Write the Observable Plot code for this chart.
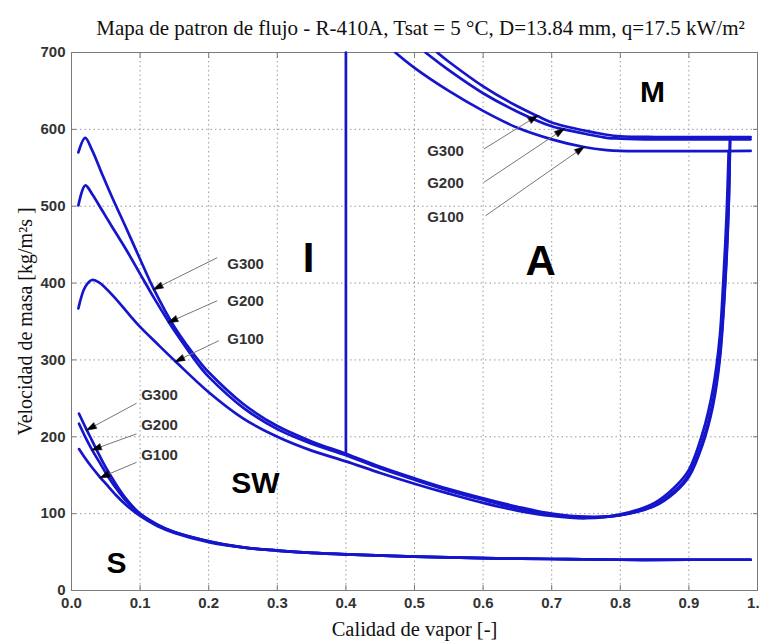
<!DOCTYPE html>
<html><head><meta charset="utf-8">
<script src="https://cdn.jsdelivr.net/npm/d3@7"></script>
<script src="https://cdn.jsdelivr.net/npm/@observablehq/plot@0.6"></script>
<style>html,body{margin:0;padding:0;background:#fff;}</style>
</head><body><div id="chart"></div>
<script>
// ---------- text ----------
const title = "Mapa de patron de flujo - R-410A, Tsat = 5 °C, D=13.84 mm, q=17.5 kW/m²";
const xLabel = "Calidad de vapor [-]";
const yLabel = "Velocidad de masa [kg/m²s ]";
const xTicks = [0, 0.1, 0.2, 0.3, 0.4, 0.5, 0.6, 0.7, 0.8, 0.9, 1];
const yTicks = [0, 100, 200, 300, 400, 500, 600, 700];
const massFluxes = ["G300", "G200", "G100"];

// ---------- stratified-wavy boundary (x, G) ----------
const wavyG300 = [[0.01,570],[0.02,589],[0.03,573],[0.045,541],[0.06,510],[0.08,471],[0.1,431],[0.12,392],[0.15,343],[0.19,294],[0.2,284],[0.25,243],[0.3,214],[0.35,194],[0.4,178],[0.45,161],[0.5,146],[0.55,132],[0.6,120],[0.65,109],[0.7,100],[0.75,96],[0.8,98],[0.85,110],[0.88,128],[0.9,148],[0.92,190],[0.935,240],[0.945,300],[0.953,400],[0.958,500],[0.96,590]];
const wavyG200 = [[0.01,501],[0.02,527],[0.03,516],[0.045,494],[0.06,472],[0.08,443],[0.1,412],[0.12,381],[0.142,349],[0.15,338],[0.19,288],[0.2,278],[0.25,238],[0.3,210],[0.35,191],[0.4,176],[0.45,159],[0.5,144],[0.55,130],[0.6,118],[0.65,107],[0.7,99],[0.75,95],[0.8,98],[0.85,111],[0.88,130],[0.9,151],[0.92,194],[0.935,246],[0.945,306],[0.953,405],[0.958,505],[0.96,587]];
const wavyG100 = [[0.01,367],[0.02,395],[0.03,404],[0.04,401],[0.06,384],[0.086,357],[0.1,343],[0.125,321],[0.154,296],[0.2,258],[0.25,224],[0.3,200],[0.35,182],[0.4,168],[0.45,153],[0.5,139],[0.55,126],[0.6,114],[0.65,104],[0.7,97],[0.75,94],[0.8,99],[0.85,114],[0.88,135],[0.9,157],[0.92,205],[0.935,262],[0.945,330],[0.95,400],[0.955,490],[0.958,572]];

// ---------- stratified boundary (x, G) ----------
const stratG300 = [[0.011,230],[0.02,213],[0.03,195],[0.04,177],[0.05,160],[0.065,138],[0.08,119],[0.1,100],[0.125,86],[0.15,76],[0.2,64],[0.25,56],[0.3,52],[0.35,49],[0.4,47],[0.5,44],[0.6,42],[0.7,41],[0.8,40],[0.9,40],[0.99,40]];
const stratG200 = [[0.011,217],[0.02,200],[0.03,183],[0.04,168],[0.05,153],[0.065,133],[0.08,116],[0.1,99],[0.125,85],[0.15,76],[0.2,64],[0.25,56],[0.3,52],[0.35,49],[0.4,47],[0.5,44],[0.6,42],[0.7,41],[0.8,40],[0.9,40],[0.99,40]];
const stratG100 = [[0.011,184],[0.02,172],[0.03,160],[0.042,147],[0.05,139],[0.065,124],[0.08,111],[0.1,97],[0.125,84],[0.15,75],[0.2,63],[0.25,56],[0.3,52],[0.35,49],[0.4,47],[0.5,44],[0.6,42],[0.7,41],[0.8,40],[0.9,40],[0.99,40]];

// ---------- mist (dryout) boundary (x, G) ----------
const mistG300 = [[0.533,700],[0.55,688],[0.6,656],[0.65,630],[0.68,617],[0.7,609],[0.75,598],[0.78,593],[0.8,591],[0.85,590],[0.99,590]];
const mistG200 = [[0.516,700],[0.55,677],[0.6,647],[0.65,623],[0.7,604],[0.718,600],[0.75,594],[0.78,589],[0.8,588],[0.85,587],[0.99,587]];
const mistG100 = [[0.472,700],[0.5,680],[0.55,650],[0.6,624],[0.65,602],[0.7,587],[0.747,577],[0.78,573],[0.8,572],[0.99,572]];

// ---------- intermittent / annular transition ----------
const transitionIA = [[0.4,178],[0.4,700]];

// ---------- region names ----------
const regionNames = ["I", "A", "M", "SW", "S"];
const regionX = [0.3455, 0.684, 0.847, 0.268, 0.0656];
const regionG = [432, 428, 648, 139, 35];

// ---------- annotations ----------
const wavyLabelX = [0.227, 0.227, 0.227];
const wavyLabelG = [425, 377, 327];
const wavyArrowFrom = [[0.2124,433],[0.2124,377],[0.2147,325]];
const wavyArrowTo = [[0.120,392],[0.1418,349],[0.1516,298]];

const stratLabelX = [0.1016, 0.1016, 0.1016];
const stratLabelG = [253.6, 214.6, 175.6];
const stratArrowFrom = [[0.0948,243.6],[0.0948,203.8],[0.0948,166.8]];
const stratArrowTo = [[0.0228,209],[0.0303,183],[0.0423,147]];

const mistLabelX = [0.572, 0.572, 0.572];
const mistLabelG = [572, 529.6, 486];
const mistArrowFrom = [[0.601,574.4],[0.601,531],[0.6035,487.6]];
const mistArrowTo = [[0.679,617.5],[0.7176,600.4],[0.7468,577]];

// ---------- build tables ----------
const curveSets = {wavyG300, wavyG200, wavyG100, stratG300, stratG200, stratG100, mistG300, mistG200, mistG100, transitionIA};
const curveRows = Object.entries(curveSets).flatMap(([id, pts]) => pts.map(([x, G]) => ({id, x, G})));
const straightIds = new Set(["transitionIA"]);

const labelRows = (xs, gs) => massFluxes.map((t, i) => ({t, x: xs[i], G: gs[i]}));
const arrowRows = (from, to) => from.map((f, i) => ({x1: f[0], y1: f[1], x2: to[i][0], y2: to[i][1]}));
const arrows = [...arrowRows(wavyArrowFrom, wavyArrowTo), ...arrowRows(stratArrowFrom, stratArrowTo), ...arrowRows(mistArrowFrom, mistArrowTo)];
const regions = regionNames.map((t, i) => ({t, x: regionX[i], G: regionG[i]}));

const blue = "#1515cc";
const sans = "'Liberation Sans', Arial, sans-serif";
const serif = "'Liberation Serif', 'Times New Roman', serif";
const gridStyle = {stroke: "#999", strokeOpacity: 1, strokeDasharray: "1.5,3"};
const axisText = {fontSize: 15, fontWeight: "bold", fontFamily: sans};

const plot = Plot.plot({
  width: 760, height: 644,
  marginLeft: 71, marginRight: 3, marginTop: 52, marginBottom: 54,
  x: {domain: [0, 1]},
  y: {domain: [0, 700]},
  style: {fontFamily: sans, fontSize: "15px", fontWeight: "bold", color: "#333", background: "#fff", overflow: "visible"},
  marks: [
    Plot.gridX(xTicks, gridStyle),
    Plot.gridY(yTicks, gridStyle),
    Plot.frame({stroke: "#7a7a7a"}),
    Plot.axisX(xTicks, {anchor: "bottom", tickSize: -5, tickPadding: 12, stroke: "#7a7a7a", fill: "#333", label: null, ...axisText}),
    Plot.axisX(xTicks, {anchor: "top", tickSize: -5, tickFormat: () => "", stroke: "#7a7a7a", label: null}),
    Plot.axisY(yTicks, {anchor: "left", tickSize: -5, tickPadding: 11, stroke: "#7a7a7a", fill: "#333", label: null, ...axisText}),
    Plot.axisY(yTicks, {anchor: "right", tickSize: -5, tickFormat: () => "", stroke: "#7a7a7a", label: null}),
    Plot.line(curveRows.filter(d => !straightIds.has(d.id)), {x: "x", y: "G", z: "id", stroke: blue, strokeWidth: 2.7, curve: "catmull-rom", clip: true}),
    Plot.line(curveRows.filter(d => straightIds.has(d.id)), {x: "x", y: "G", z: "id", stroke: blue, strokeWidth: 2.7}),
    Plot.link(arrows, {x1: "x1", y1: "y1", x2: "x2", y2: "y2", stroke: "#777", strokeWidth: 1, markerEnd: "arrow"}),
    Plot.text(labelRows(wavyLabelX, wavyLabelG), {x: "x", y: "G", text: "t", textAnchor: "start", fontSize: 15, fontWeight: "bold", fill: "#333"}),
    Plot.text(labelRows(stratLabelX, stratLabelG), {x: "x", y: "G", text: "t", textAnchor: "start", fontSize: 15, fontWeight: "bold", fill: "#333"}),
    Plot.text(labelRows(mistLabelX, mistLabelG), {x: "x", y: "G", text: "t", textAnchor: "end", fontSize: 15, fontWeight: "bold", fill: "#333"}),
    Plot.text(regions, {x: "x", y: "G", text: "t", fontSize: d => (d.t === "I" || d.t === "A") ? 42 : 30, fontWeight: "bold", fill: "#000", fontFamily: sans}),
    Plot.text([title], {text: d => d, frameAnchor: "top", textAnchor: "middle", lineAnchor: "middle", dy: -24, dx: 6, fontFamily: serif, fontSize: 21, fontWeight: "normal", fill: "#111"}),
    Plot.text([xLabel], {text: d => d, frameAnchor: "bottom", textAnchor: "middle", lineAnchor: "middle", dy: 39, fontFamily: serif, fontSize: 20.5, fontWeight: "normal", fill: "#111"}),
    Plot.text([yLabel], {text: d => d, frameAnchor: "left", textAnchor: "middle", lineAnchor: "middle", dx: -46, rotate: -90, fontFamily: serif, fontSize: 20, fontWeight: "normal", fill: "#111"})
  ]
});

// filled black arrowheads like the reference
d3.select(plot).selectAll("marker")
  .attr("fill", "#000").attr("stroke", "#000").attr("stroke-width", 0.5)
  .attr("viewBox", "-10 -5 15 10")
  .attr("markerWidth", 15).attr("markerHeight", 10)
  .selectAll("path").attr("d", "M-9,-3.2L1,0L-9,3.2Z");

document.getElementById("chart").appendChild(plot);
</script>
</body></html>
